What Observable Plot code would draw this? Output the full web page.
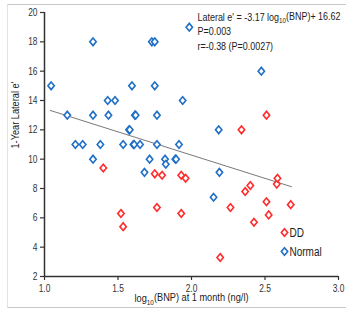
<!DOCTYPE html>
<html>
<head>
<meta charset="utf-8">
<script src="https://cdn.jsdelivr.net/npm/d3@7"></script>
<script src="https://cdn.jsdelivr.net/npm/@observablehq/plot@0.6"></script>
<style>
  html, body { margin: 0; padding: 0; background: #fff; }
  #wrap { position: relative; width: 346px; height: 311px; overflow: hidden; }
  #frame { position: absolute; left: 7px; top: 4px; width: 360px; height: 304px;
           border-top: 1px solid #c8c8c8; border-bottom: 1px solid #c8c8c8; border-left: 1px solid #e4e4e4; box-sizing: border-box; }
  #chart { position: absolute; left: 0; top: 0; }
</style>
</head>
<body>
<div id="wrap"><div id="frame"></div><div id="chart"></div></div>
<script>
// Normal group
const normalX = [1.045, 1.155, 1.21, 1.26, 1.33, 1.33, 1.33, 1.38, 1.43, 1.48, 1.435, 1.535, 1.575, 1.58, 1.595, 1.605, 1.61, 1.615, 1.62, 1.65, 1.68, 1.715, 1.73, 1.75, 1.75, 1.765, 1.765, 1.82, 1.825, 1.89, 1.895, 1.915, 1.94, 1.985, 2.15, 2.185, 2.19, 2.475];
const normalY = [15.0, 13.0, 11.0, 11.0, 18.0, 13.0, 10.0, 11.0, 14.0, 14.0, 13.0, 11.0, 12.0, 12.0, 15.0, 11.0, 11.0, 13.0, 13.0, 11.0, 9.1, 10.0, 18.0, 18.0, 15.0, 13.0, 11.0, 10.0, 9.65, 10.0, 10.0, 11.0, 14.0, 19.0, 7.4, 12.0, 9.1, 16.0];
// DD group
const ddX = [1.40, 1.52, 1.535, 1.75, 1.765, 1.80, 1.93, 1.93, 1.96, 2.195, 2.265, 2.34, 2.365, 2.40, 2.425, 2.51, 2.51, 2.525, 2.58, 2.585, 2.675];
const ddY = [9.4, 6.3, 5.4, 9.0, 6.7, 8.9, 8.9, 6.3, 8.7, 3.3, 6.7, 12.0, 7.8, 8.2, 5.7, 13.0, 7.1, 6.2, 8.3, 8.7, 6.9];
// Regression line end points
const trendX = [1.04, 2.68];
const trendY = [13.32, 8.12];
const xTicks = [1.0, 1.5, 2.0, 2.5, 3.0];
const yTicks = [2, 4, 6, 8, 10, 12, 14, 16, 18, 20];
const groups = ["DD", "Normal"];
const colors = ["#ff2a2a", "#1f6fc6"];
const annotation = ["Lateral e' = -3.17 log\u2081\u2080(BNP)+ 16.62", "P=0.003", "r=-0.38 (P=0.0027)"];
const xLabel = "log\u2081\u2080(BNP) at 1 month (ng/l)";
const yLabel = "1-Year Lateral e'";

const points = [
  ...normalX.map((x, i) => ({x, y: normalY[i], g: "Normal"})),
  ...ddX.map((x, i) => ({x, y: ddY[i], g: "DD"}))
];
const trend = trendX.map((x, i) => ({x, y: trendY[i]}));

const diamond = {
  draw(ctx, size) {
    const w = 3.2, h = 3.8;
    ctx.moveTo(0, -h); ctx.lineTo(w, 0); ctx.lineTo(0, h); ctx.lineTo(-w, 0); ctx.closePath();
  }
};
const font = "'Liberation Sans', Arial, sans-serif";

const plot = Plot.plot({
  width: 346, height: 311,
  marginLeft: 44, marginRight: 8, marginTop: 12, marginBottom: 35,
  style: {fontFamily: font, fontSize: "10px", color: "#333", background: "transparent"},
  x: {domain: [1, 3]},
  y: {domain: [2, 20]},
  color: {domain: groups, range: colors},
  marks: [
    Plot.line(trend, {x: "x", y: "y", stroke: "#555", strokeWidth: 0.8}),
    Plot.dot(points, {x: "x", y: "y", stroke: "g", symbol: () => diamond, r: 3, strokeWidth: 1.6, fill: "white"}),
    Plot.axisX({ticks: xTicks, tickFormat: d3.format(".1f"), tickSize: 4, tickPadding: 4, stroke: "#333", strokeWidth: 1.2, fill: "#333", fontSize: 10.5, label: null}),
    Plot.axisY({ticks: yTicks, tickSize: 4, tickPadding: 3, stroke: "#333", strokeWidth: 1.2, fill: "#333", fontSize: 10.5, label: null}),
    Plot.ruleX([1], {stroke: "#333", strokeWidth: 1.5}),
    Plot.ruleY([2], {stroke: "#333", strokeWidth: 1.5}),
    ...annotation.map((t, i) => Plot.text([t], {frameAnchor: "top-left", dx: 153, dy: [5, 19, 34][i], textAnchor: "start", lineAnchor: "middle", fontSize: 11.2, fill: "#222"})),
    ...groups.map((g, i) => Plot.dot([g], {frameAnchor: "top-left", dx: 240, dy: 220 + i * 19, symbol: diamond, stroke: colors[i], strokeWidth: 1.6})),
    ...groups.map((g, i) => Plot.text([g], {frameAnchor: "top-left", dx: 245, dy: 220 + i * 19, textAnchor: "start", lineAnchor: "middle", fontSize: 12.5, fill: "#222"})),
    Plot.text([xLabel], {frameAnchor: "bottom", dy: 22, lineAnchor: "middle", fontSize: 11.5, fill: "#222"}),
    Plot.text([yLabel], {frameAnchor: "left", dx: -29, dy: 4, rotate: -90, fontSize: 11.5, fill: "#222"})
  ]
});
document.getElementById("chart").appendChild(plot);

// subscript "10" in log10, then condense text like a narrow font
d3.select(plot).selectAll("text").each(function() {
  const el = d3.select(this);
  const s = this.textContent;
  const k = s.indexOf("log\u2081\u2080");
  if (k >= 0 && this.children.length === 0) {
    el.text(null);
    el.append("tspan").text(s.slice(0, k + 3));
    el.append("tspan").attr("font-size", "70%").attr("dy", "0.3em").text("10");
    el.append("tspan").attr("dy", "-0.3em").text(s.slice(k + 5));
  }
});
d3.select(plot).selectAll("text").each(function() {
  const len = this.getComputedTextLength();
  if (len > 0) {
    this.setAttribute("textLength", (len * 0.8).toFixed(1));
    this.setAttribute("lengthAdjust", "spacingAndGlyphs");
  }
});
</script>
</body>
</html>
